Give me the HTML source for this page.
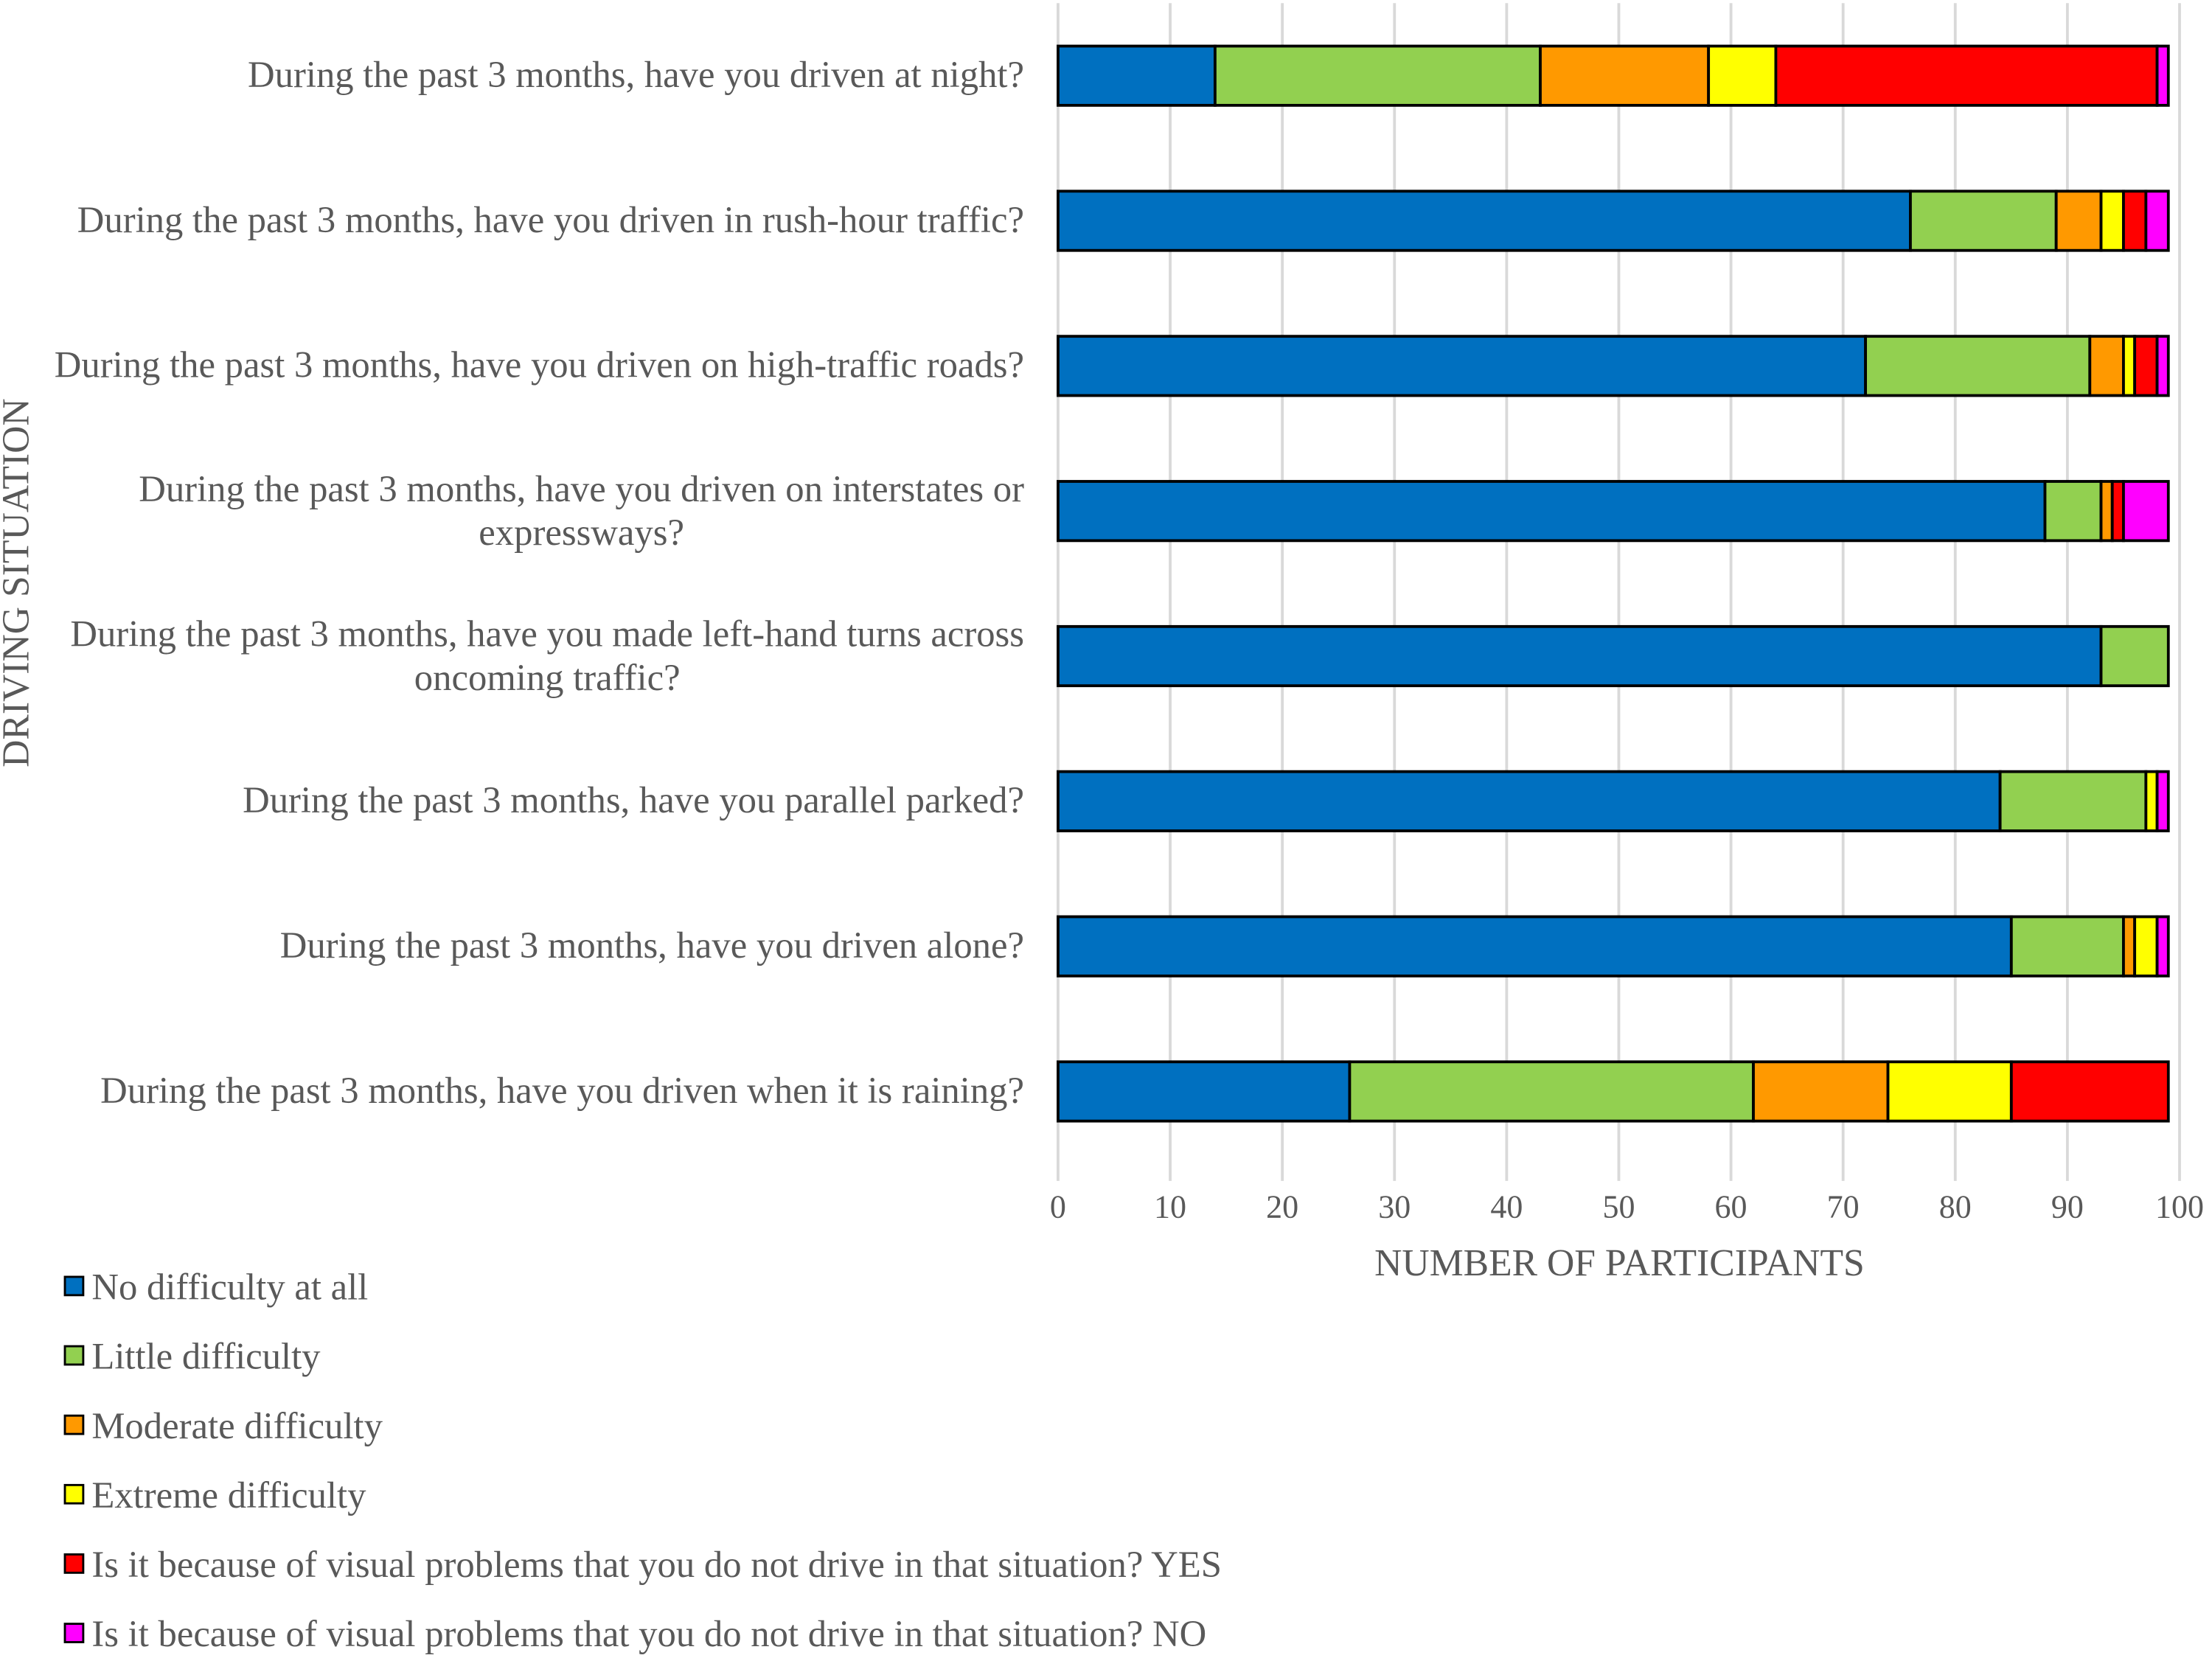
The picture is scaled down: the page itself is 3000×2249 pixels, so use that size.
<!DOCTYPE html>
<html><head><meta charset="utf-8"><style>
html,body{margin:0;padding:0;background:#fff;}
svg{display:block;font-family:"Liberation Serif",serif;}
</style></head><body>
<svg id="chart" width="3000" height="2249" viewBox="0 0 1568 1175" xmlns="http://www.w3.org/2000/svg">
<g id="grid"></g>
<g id="bars"></g>
<g id="ylabels"></g>
<g id="xticks"></g>
<text x="1148" y="904" font-size="27" fill="#595959" text-anchor="middle">NUMBER OF PARTICIPANTS</text>
<text transform="translate(20,413) rotate(-90)" font-size="27" fill="#595959" text-anchor="middle">DRIVING SITUATION</text>
<g id="legend"></g>
</svg>
<script>
const categories = [
 ["During the past 3 months, have you driven at night?"],
 ["During the past 3 months, have you driven in rush-hour traffic?"],
 ["During the past 3 months, have you driven on high-traffic roads?"],
 ["During the past 3 months, have you driven on interstates or","expressways?"],
 ["During the past 3 months, have you made left-hand turns across","oncoming traffic?"],
 ["During the past 3 months, have you parallel parked?"],
 ["During the past 3 months, have you driven alone?"],
 ["During the past 3 months, have you driven when it is raining?"]
];
const seriesNames = ["No difficulty at all","Little difficulty","Moderate difficulty","Extreme difficulty","Is it because of visual problems that you do not drive in that situation? YES","Is it because of visual problems that you do not drive in that situation? NO"];
const noDifficulty = [14,76,72,88,93,84,85,26];
const littleDifficulty = [29,13,20,5,6,13,10,36];
const moderateDifficulty = [15,4,3,1,0,0,1,12];
const extremeDifficulty = [6,2,1,0,0,1,2,11];
const visualYes = [34,2,2,1,0,0,0,14];
const visualNo = [1,2,1,4,0,1,1,0];
const xTicks = [0,10,20,30,40,50,60,70,80,90,100];
const colors = ["#0070c0","#92d050","#ff9900","#ffff00","#ff0000","#ff00ff"];
const series = [noDifficulty,littleDifficulty,moderateDifficulty,extremeDifficulty,visualYes,visualNo];
const NS="http://www.w3.org/2000/svg";
const x0=750,x1=1545,yTop=2,yBot=825;
const xs=v=>x0+(x1-x0)*v/100;
const band=(yBot-yTop)/categories.length;
const yc=i=>yTop+band*(i+0.5);
function mk(tag,attrs,parent){const e=document.createElementNS(NS,tag);for(const k in attrs)e.setAttribute(k,attrs[k]);parent.appendChild(e);return e;}
const grid=document.getElementById('grid');
xTicks.forEach(t=>{
 const l=mk('line',{x1:xs(t),x2:xs(t),y1:yTop,y2:yBot+12,stroke:'#d9d9d9','stroke-width':2},grid);
 
 
 const tx=mk('text',{x:xs(t),y:863,'font-size':23,fill:'#595959','text-anchor':'middle'},document.getElementById('xticks'));
 tx.textContent=t;
 
 
});
const bars=document.getElementById('bars');
const bh=42;
const FS=26.5;
categories.forEach((c,i)=>{
 let acc=0;
 series.forEach((s,j)=>{
  const v=s[i];
  if(v>0){
   const r=mk('rect',{x:xs(acc),y:yc(i)-bh/2,width:xs(acc+v)-xs(acc),height:bh,fill:colors[j],stroke:'#000','stroke-width':2},bars);
   
   
  }
  acc+=v;
 });
 const t=mk('text',{x:726,'font-size':FS,fill:'#595959','text-anchor':'end'},document.getElementById('ylabels'));
 
 
 if(c.length===1){t.setAttribute('y',yc(i)+8);t.textContent=c[0];}
 else{
  const spans=c.map((line,k)=>{const ts=mk('tspan',{x:726,y:yc(i)-7+31*k},t);ts.textContent=line;return ts;});
  const w=spans[0].getComputedTextLength();
  const cx=726-w/2;
  t.setAttribute('text-anchor','middle');
  spans.forEach(s=>s.setAttribute('x',cx));
 }
});
const leg=document.getElementById('legend');
seriesNames.forEach((n,j)=>{
 const y=912+49.2*j;
 const r=mk('rect',{x:46,y:y-7,width:13,height:13,fill:colors[j],stroke:'#000','stroke-width':1.5},leg);
 
 
 const t=mk('text',{x:65,y:y+9,'font-size':FS,fill:'#595959'},leg);
 t.textContent=n;
 
 
});
</script>
</body></html>
